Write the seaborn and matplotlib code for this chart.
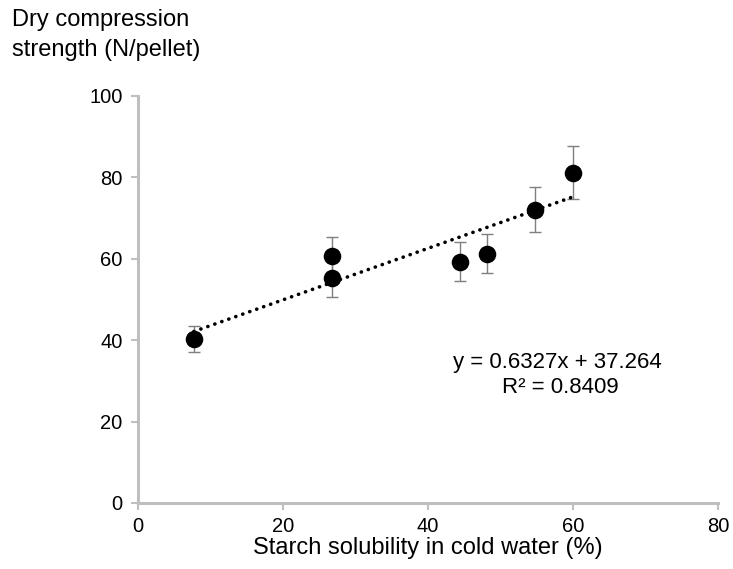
import matplotlib
matplotlib.use("Agg")
import matplotlib.pyplot as plt
import seaborn as sns
import numpy as np
import pandas as pd

# Data
solubility = [7.7, 26.8, 26.8, 44.4, 48.1, 54.7, 60.0]
strength = [40.2, 60.6, 55.2, 59.3, 61.3, 72.1, 81.2]
strength_err = [3.2, 4.7, 4.6, 4.8, 4.9, 5.5, 6.5]
fit_slope = 0.6327
fit_intercept = 37.264
fit_r2 = 0.8409
x_ticks = [0, 20, 40, 60, 80]
y_ticks = [0, 20, 40, 60, 80, 100]

sns.set_theme(style="white")
plt.rcParams['font.family'] = ['Liberation Sans', 'DejaVu Sans']

df = pd.DataFrame({"x": solubility, "y": strength, "err": strength_err})

fig = plt.figure(figsize=(7.33, 5.69), dpi=100)
ax = fig.add_axes([0.1883, 0.116, 0.7912, 0.7153])

grey = "#bfbfbf"

# trend line (Excel style linear trendline across data range)
xl = np.array([min(solubility), max(solubility)])
trend = pd.DataFrame({"x": xl, "y": fit_slope * xl + fit_intercept})
sns.lineplot(data=trend, x="x", y="y", ax=ax, color="black", lw=2.6,
             linestyle=(0, (0.05, 2.0)), dash_capstyle="round", zorder=2)

# error bars
ax.errorbar(df["x"], df["y"], yerr=df["err"], fmt="none", ecolor="#7f7f7f",
            elinewidth=1.0, capsize=4, capthick=1.0, zorder=1)

# points
sns.scatterplot(data=df, x="x", y="y", ax=ax, color="black", s=160,
                edgecolor="black", linewidth=0, zorder=3)

ax.set_xlim(0, 80)
ax.set_ylim(0, 100)
ax.set_xticks(x_ticks)
ax.set_yticks(y_ticks)
ax.tick_params(axis="both", which="major", direction="out", length=5, width=1.5,
               color=grey, labelsize=14.5, labelcolor="black", pad=5)
ax.tick_params(axis="y", pad=6)
ax.tick_params(bottom=True, left=True)

for side in ["top", "right"]:
    ax.spines[side].set_visible(False)
for side in ["left", "bottom"]:
    ax.spines[side].set_color(grey)
    ax.spines[side].set_linewidth(2.2)

ax.set_xlabel("Starch solubility in cold water (%)", fontsize=17, color="black", labelpad=1)
ax.set_ylabel("")

fig.text(12 / 733, 1 - 20 / 569, "Dry compression", fontsize=17, ha="left", va="center", color="black")
fig.text(12 / 733, 1 - 50 / 569, "strength (N/pellet)", fontsize=17, ha="left", va="center", color="black")

ax.text(57.9, 34.5, f"y = {fit_slope}x + {fit_intercept}", fontsize=16, ha="center", va="center", color="black")
ax.text(58.2, 28.3, f"R² = {fit_r2}", fontsize=16, ha="center", va="center", color="black")

fig.savefig("out.png", dpi=100, facecolor="white")
